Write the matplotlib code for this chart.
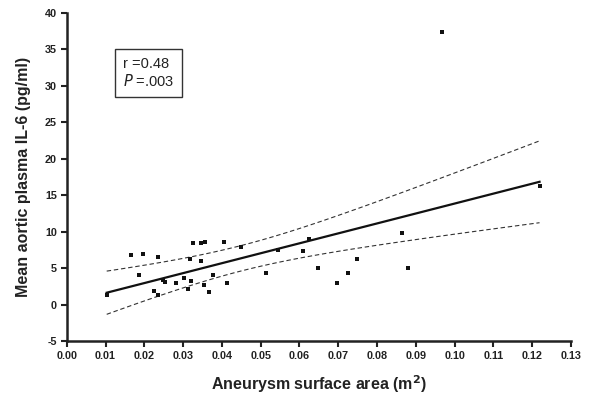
import matplotlib
matplotlib.use("Agg")
import matplotlib.pyplot as plt
import numpy as np

plt.rcParams['font.family'] = ['Liberation Sans', 'DejaVu Sans']
plt.rcParams['axes.unicode_minus'] = False

# aneurysm surface area (m^2) and mean aortic plasma IL-6 (pg/ml)
area = [0.0103, 0.0166, 0.0196, 0.0186, 0.0235, 0.0225, 0.0234, 0.0248, 0.0254,
        0.0282, 0.0303, 0.0312, 0.0320, 0.0317, 0.0325, 0.0346, 0.0357, 0.0345,
        0.0355, 0.0368, 0.0376, 0.0406, 0.0413, 0.0448, 0.0514, 0.0544, 0.0608,
        0.0625, 0.0647, 0.0698, 0.0725, 0.0749, 0.0864, 0.0880, 0.0967, 0.1219]
il6 = [1.28, 6.78, 7.00, 4.07, 6.55, 1.87, 1.32, 3.38, 3.07,
       2.97, 3.62, 2.19, 3.20, 6.31, 8.38, 8.43, 8.57, 6.04,
       2.65, 1.69, 4.11, 8.60, 3.00, 7.90, 4.39, 7.47, 7.28,
       9.00, 5.03, 2.97, 4.30, 6.27, 9.85, 4.99, 37.45, 16.30]

x_ticks = [0.00, 0.01, 0.02, 0.03, 0.04, 0.05, 0.06, 0.07, 0.08, 0.09, 0.10, 0.11, 0.12, 0.13]
y_ticks = [-5, 0, 5, 10, 15, 20, 25, 30, 35, 40]

x = np.array(area)
y = np.array(il6)
n = len(x)

# linear regression with 95% confidence band
slope, intercept = np.polyfit(x, y, 1)
resid = y - (slope * x + intercept)
s = np.sqrt(np.sum(resid ** 2) / (n - 2))
t = 2.032  # t(0.975, df=34)
xs = np.linspace(x.min(), x.max(), 100)
fit = slope * xs + intercept
half = t * s * np.sqrt(1.0 / n + (xs - x.mean()) ** 2 / np.sum((x - x.mean()) ** 2))

fig = plt.figure(figsize=(5.96, 4.0), dpi=100)
ax = fig.add_axes([0.112, 0.1475, 0.846, 0.82])

ax.plot(xs, fit, color='#111111', lw=1.6, zorder=3)
ax.plot(xs, fit + half, color='#333333', lw=0.8, ls=(0, (4, 2.5)), zorder=2)
ax.plot(xs, fit - half, color='#333333', lw=0.8, ls=(0, (4, 2.5)), zorder=2)
ax.scatter(x, y, marker='s', s=7, color='#111111', linewidths=0, zorder=4)

ax.set_xlim(0, 0.13)
ax.set_ylim(-5, 40)
ax.set_xticks(x_ticks)
ax.set_xticklabels(["%.2f" % v for v in x_ticks])
ax.set_yticks(y_ticks)

for side in ['top', 'right']:
    ax.spines[side].set_visible(False)
for side in ['left', 'bottom']:
    ax.spines[side].set_linewidth(1.8)
    ax.spines[side].set_color('#222222')
ax.tick_params(direction='out', length=4, width=1.5, color='#222222',
               labelsize=7.8, pad=3)
for lbl in ax.get_xticklabels() + ax.get_yticklabels():
    lbl.set_fontweight('bold')
    lbl.set_color('#222222')

ax.set_xlabel("Aneurysm surface area (m$^\\mathbf{2}$)", fontsize=11.5,
              fontweight='bold', color='#222222', labelpad=9)
ax.set_ylabel("Mean aortic plasma IL-6 (pg/ml)", fontsize=11.5,
              fontweight='bold', color='#222222', labelpad=10)

ax.text(0.0145, 34.0, "r =0.48\n$P$ =.003", fontsize=10.5, color='#222222',
        va='top', ha='left', linespacing=1.15,
        bbox=dict(boxstyle='square,pad=0.55', fc='white', ec='#333333', lw=1.0))

fig.savefig("out.png", dpi=100)
